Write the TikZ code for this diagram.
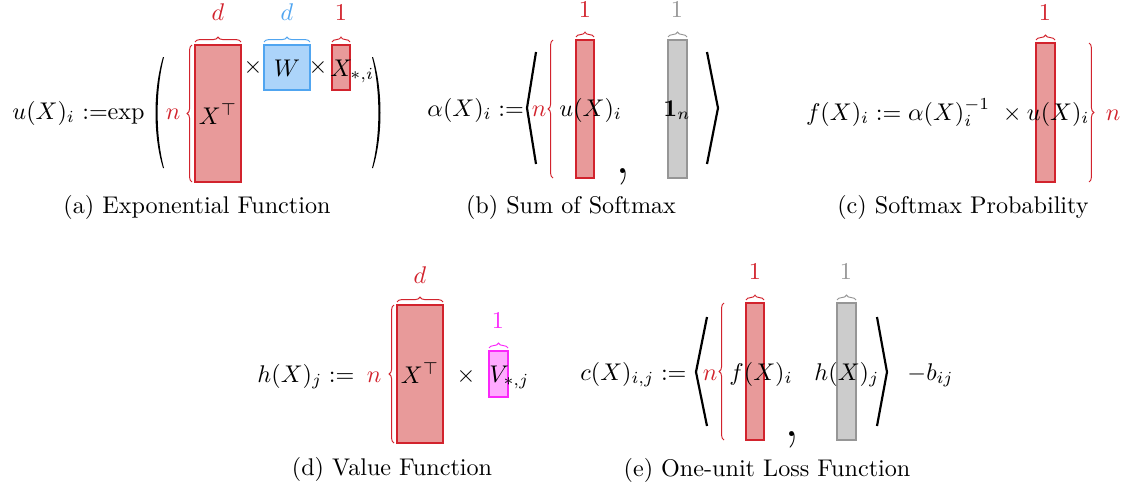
\documentclass[tikz,border=0pt]{standalone}
\usepackage{amsmath,amssymb}
\usetikzlibrary{decorations.pathreplacing}
\definecolor{xred}{RGB}{210,35,45}
\definecolor{xredfill}{RGB}{232,154,154}
\definecolor{wblue}{RGB}{80,165,240}
\definecolor{wbluefill}{RGB}{172,212,250}
\definecolor{onegray}{RGB}{150,150,150}
\definecolor{onegrayfill}{RGB}{204,204,204}
\definecolor{vmag}{RGB}{250,40,250}
\definecolor{vmagfill}{RGB}{255,170,255}
\tikzset{
  redbox/.style={draw=xred, fill=xredfill, line width=0.5pt},
  bluebox/.style={draw=wblue, fill=wbluefill, line width=0.5pt},
  graybox/.style={draw=onegray, fill=onegrayfill, line width=0.5pt},
  magbox/.style={draw=vmag, fill=vmagfill, line width=0.5pt},
  topbrace/.style={decorate, decoration={brace, amplitude=2pt}, line width=0.4pt},
  sidebrace/.style={decorate, decoration={brace, amplitude=2pt}, line width=0.4pt},
  dimlabel/.style={inner sep=0pt, anchor=base},
  mathtext/.style={inner sep=0pt, anchor=base},
  bigangle/.style={line width=0.9pt, line join=miter},
}
\begin{document}
\begin{tikzpicture}[x=0.01456cm, y=-0.01456cm]
\useasboundingbox (0,0) rectangle (1128,488);

% (a) exponential function
\node[mathtext, anchor=base west] (ua) at (12,119) {$u(X)_i$};
\node[mathtext, anchor=base west] (asa) at (82,119) {$:=$};
\node[mathtext, anchor=base east] (expa) at (145,119) {$\exp$};
\fill (163,57) .. controls (153,90) and (153,136) .. (163,168)
  -- (164,168) .. controls (155.5,136) and (155.5,90) .. (164,57) -- cycle;
\fill (373,57) .. controls (383,90) and (383,136) .. (373,168)
  -- (372,168) .. controls (380.5,136) and (380.5,90) .. (372,57) -- cycle;
\node[dimlabel, text=xred] (na) at (173,119) {$n$};
\draw[sidebrace, xred] (192,182) -- (192,45);
\draw[redbox] (195,45) rectangle (241,182);
\draw[bluebox] (264,45) rectangle (310,90);
\draw[redbox] (332,45) rectangle (350,90);
\draw[topbrace, xred] (195,42) -- (241,42);
\draw[topbrace, wblue] (264,42) -- (310,42);
\draw[topbrace, xred] (332,42) -- (350,42);
\node[dimlabel, text=xred] (da) at (218,21) {$d$};
\node[dimlabel, text=wblue] (db) at (287,21) {$d$};
\node[dimlabel, text=xred] (oa) at (341,21) {$1$};
\node[mathtext] (xta) at (218,124) {$X^\top$};
\node[mathtext] (ta) at (253,74) {$\times$};
\node[mathtext] (wa) at (287,76) {$W$};
\node[mathtext] (tb) at (318,74) {$\times$};
\node[mathtext, anchor=base west] (xa) at (330,76) {$X_{*,i}$};
\node[mathtext] (capa) at (197,213) {(a) Exponential Function};

% (b) sum of softmax
\node[mathtext, anchor=base west] (alb) at (427,116) {$\alpha(X)_i :=$};
\draw[bigangle] (536,52) -- (527,108) -- (536,164);
\draw[bigangle] (707,52) -- (718,108) -- (707,164);
\node[dimlabel, text=xred] (nb) at (539,116) {$n$};
\draw[sidebrace, xred] (553,178) -- (553,40);
\draw[redbox] (576,40) rectangle (594,178);
\draw[graybox] (668,40) rectangle (687,178);
\draw[topbrace, xred] (576,37) -- (594,37);
\draw[topbrace, onegray] (668,37) -- (687,37);
\node[dimlabel, text=xred] (ob) at (585,17) {$1$};
\node[dimlabel, text=onegray] (gb) at (677,17) {$1$};
\node[mathtext, anchor=base west] (ub) at (559,116) {$u(X)_i$};
\node[mathtext] (cb) at (623,173) {\Huge ,};
\node[mathtext] (eb) at (677,116) {$\mathbf{1}_n$};
\node[mathtext] (capb) at (571,213) {(b) Sum of Softmax};

% (c) softmax probability
\draw[redbox] (1036,43) rectangle (1055,182);
\draw[topbrace, xred] (1036,40) -- (1055,40);
\node[dimlabel, text=xred] (oc) at (1045,21) {$1$};
\node[mathtext, anchor=base east] (fc) at (1090,120)
  {$f(X)_i := \alpha(X)_i^{-1}\hspace{3pt} \times u(X)_i$};
\draw[sidebrace, xred] (1089,43) -- (1089,182);
\node[dimlabel, text=xred] (nc) at (1113,120) {$n$};
\node[mathtext] (capc) at (963,213) {(c) Softmax Probability};

% (d) value function
\node[mathtext, anchor=base west] (hd) at (257,382) {$h(X)_j :=$};
\node[dimlabel, text=xred] (nd) at (374,382) {$n$};
\draw[sidebrace, xred] (394,443) -- (394,305);
\draw[redbox] (397,305) rectangle (443,443);
\draw[magbox] (489,351) rectangle (508,397);
\draw[topbrace, xred] (397,302) -- (443,302);
\draw[topbrace, vmag] (489,348) -- (508,348);
\node[dimlabel, text=xred] (dd) at (420,283) {$d$};
\node[dimlabel, text=vmag] (od) at (498,328) {$1$};
\node[mathtext] (xtd) at (420,383) {$X^\top$};
\node[mathtext] (td) at (466,382) {$\times$};
\node[mathtext, anchor=base west] (vd) at (489,382) {$V_{*,j}$};
\node[mathtext] (capd) at (392,475) {(d) Value Function};

% (e) one-unit loss function
\node[mathtext, anchor=base west] (ce) at (580,380) {$c(X)_{i,j} :=$};
\draw[bigangle] (707,317) -- (696,372) -- (707,426);
\draw[bigangle] (877,317) -- (887,372) -- (877,426);
\node[dimlabel, text=xred] (ne) at (710,380) {$n$};
\draw[sidebrace, xred] (724,440) -- (724,303);
\draw[redbox] (746,303) rectangle (764,440);
\draw[graybox] (837,303) rectangle (856,440);
\draw[topbrace, xred] (746,300) -- (764,300);
\draw[topbrace, onegray] (837,300) -- (856,300);
\node[dimlabel, text=xred] (oe) at (755,279) {$1$};
\node[dimlabel, text=onegray] (ge) at (846,279) {$1$};
\node[mathtext, anchor=base west] (fe) at (729,380) {$f(X)_i$};
\node[mathtext] (cme) at (792,436) {\Huge ,};
\node[mathtext, anchor=base west] (he) at (814,380) {$h(X)_j$};
\node[mathtext, anchor=base west] (be) at (907,380) {$-b_{ij}$};
\node[mathtext] (cape) at (767,476) {(e) One-unit Loss Function};
\end{tikzpicture}
\end{document}
